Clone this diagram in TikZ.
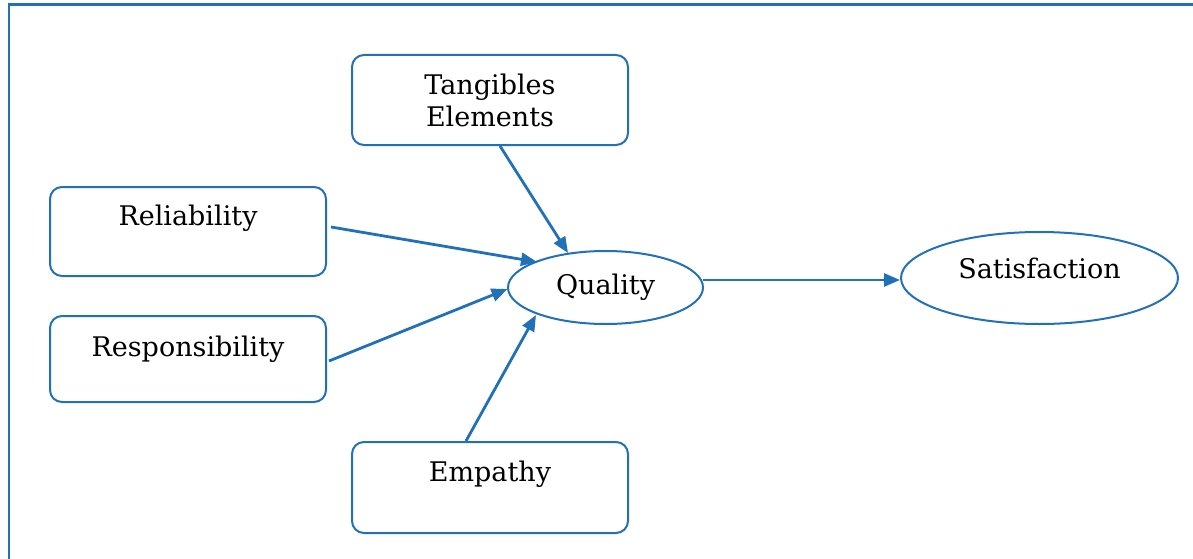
\documentclass[tikz,border=0pt]{standalone}
\usepackage{fontspec}
\setmainfont{DejaVu Serif}
\usetikzlibrary{arrows.meta,shapes.geometric}
\definecolor{lineblue}{RGB}{33,113,185}
\tikzset{
  boxnode/.style={draw=lineblue, line width=2pt, rounded corners=12pt, minimum width=276pt, minimum height=90pt, inner sep=0pt, align=center, font=\fontsize{27}{32}\selectfont},
  ellnode/.style={draw=lineblue, line width=2pt, ellipse, inner sep=0pt, align=center, font=\fontsize{27}{32}\selectfont},
  conn/.style={draw=lineblue, line width=2.8pt, -{Triangle[length=16pt,width=13pt]}},
}
\begin{document}
\begin{tikzpicture}[x=1pt,y=-1pt]
\useasboundingbox (0,0) rectangle (1193,559);
\draw[lineblue, line width=2.4pt] (9,570) -- (9,4.5) -- (1200,4.5);
\node[boxnode] (tang) at (490,100) {Tangibles\\Elements};
\node[boxnode, minimum height=89pt] (rel) at (188,231.5) {Reliability\\\mbox{}};
\node[boxnode, minimum height=86pt] (resp) at (188,359) {Responsibility\\[-6pt]\mbox{}};
\node[boxnode, minimum height=91pt] (emp) at (490,487.5) {Empathy\\\mbox{}};
\node[ellnode, minimum width=195pt, minimum height=73pt] (q) at (605.5,287.5) {Quality};
\node[ellnode, minimum width=277pt, minimum height=92pt] (sat) at (1039.5,278) {Satisfaction\\[-12pt]\mbox{}};
\draw[conn] ([xshift=10pt]tang.south) -- ([shift={(-37.5,-34.5)}]q.center);
\draw[conn] ([shift={(4,-4.5)}]rel.east) -- ([shift={(-68.5,-25.5)}]q.center);
\draw[conn] ([shift={(2,2)}]resp.east) -- ([shift={(-98,1.5)}]q.center);
\draw[conn] ([xshift=-24pt]emp.north) -- ([shift={(-69.5,27.5)}]q.center);
\draw[conn] ([shift={(97.5,-7.5)}]q.center) -- ([shift={(0,2)}]sat.west);
\end{tikzpicture}
\end{document}
